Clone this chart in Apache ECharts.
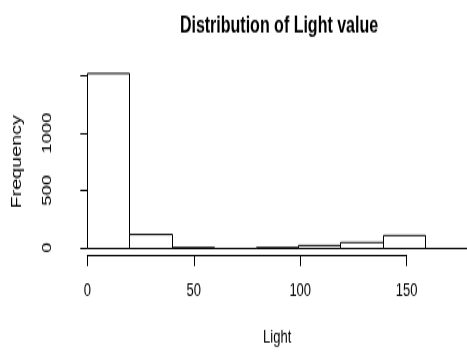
<!DOCTYPE html>
<html>
<head>
<meta charset="utf-8">
<script src="https://cdn.jsdelivr.net/npm/echarts@6/dist/echarts.min.js"></script>
<style>
html,body{margin:0;padding:0;background:#fff;overflow:hidden;}
#wrap{width:467px;height:354px;overflow:hidden;}
#c{width:467px;height:250px;transform:scaleY(1.416);transform-origin:0 0;}
</style>
</head>
<body>
<div id="wrap"><div id="c"></div></div>
<script>
var titleText = 'Distribution of Light value';
var xName = 'Light';
var yName = 'Frequency';
var binStarts = [0, 20, 40, 60, 80, 100, 120, 140, 160];
var binEnds = [20, 40, 60, 80, 100, 120, 140, 160, 180];
var counts = [1528, 118, 10, 0, 8, 22, 46, 107, 1];
var xTicks = [0, 50, 100, 150];
var yTicks = [0, 500, 1000, 1500];
var yTickLabels = ['0', '500', '1000', ''];

var data = binStarts.map(function (s, i) { return [s, binEnds[i], counts[i]]; });
var font = '"Liberation Sans", Arial, sans-serif';
var S = 1.416;

var chart = echarts.init(document.getElementById('c'), null, {renderer: 'canvas'});
chart.setOption({
  backgroundColor: '#ffffff',
  animation: false,
  title: {
    text: titleText,
    left: 274, top: 6,
    textAlign: 'center',
    textStyle: {fontFamily: font, fontWeight: 'bold', fontSize: 16, color: '#000'}
  },
  grid: [
    {left: 87.3, top: 53.6, width: 383.3, height: 121.3, containLabel: false},
    {left: 87.3, top: 150, width: 319.4, height: 30.2, containLabel: false}
  ],
  xAxis: [
    {gridIndex: 0, type: 'value', min: 0, max: 180,
     axisLine: {show: false}, axisTick: {show: false}, axisLabel: {show: false}, splitLine: {show: false},
     name: xName, nameLocation: 'middle', nameGap: 57,
     nameTextStyle: {fontFamily: font, fontSize: 13, color: '#000'}},
    {gridIndex: 1, type: 'value', min: xTicks[0], max: xTicks[xTicks.length - 1], interval: 50,
     axisLine: {show: true, lineStyle: {color: '#000', width: 1}},
     axisTick: {show: true, length: 7.7, lineStyle: {color: '#000', width: 1}},
     axisLabel: {show: true, margin: 19, fontFamily: font, fontSize: 13, color: '#000'},
     splitLine: {show: false}}
  ],
  yAxis: [
    {gridIndex: 0, type: 'value', min: yTicks[0], max: yTicks[yTicks.length - 1], interval: 500, offset: 15.6,
     axisLine: {show: true, lineStyle: {color: '#000', width: 1}},
     axisTick: {show: true, length: 7, lineStyle: {color: '#000', width: 1}},
     axisLabel: {show: true, rotate: 90, margin: 17.5, fontFamily: font, fontSize: 13, color: '#000',
       formatter: function (v) { var i = yTicks.indexOf(v); return i >= 0 ? yTickLabels[i] : ''; }},
     splitLine: {show: false},
     name: yName, nameLocation: 'middle', nameGap: 48,
     nameTextStyle: {fontFamily: font, fontSize: 14, color: '#000'}},
    {gridIndex: 1, type: 'value', show: false}
  ],
  series: [{
    type: 'custom',
    xAxisIndex: 0, yAxisIndex: 0,
    clip: false,
    data: data,
    renderItem: function (params, api) {
      var p0 = api.coord([api.value(0), 0]);
      var p1 = api.coord([api.value(1), api.value(2)]);
      var x0 = Math.round(p0[0]) + 0.5, x1 = Math.round(p1[0]) + 0.5;
      var y0 = (Math.round(p0[1] * S) + 0.5) / S;
      var y1 = (Math.round(p1[1] * S) + 0.5) / S;
      return {
        type: 'rect',
        shape: {x: x0, y: y1, width: x1 - x0, height: y0 - y1},
        style: {fill: '#fff', stroke: '#000', lineWidth: 1}
      };
    }
  }]
});
</script>
</body>
</html>
